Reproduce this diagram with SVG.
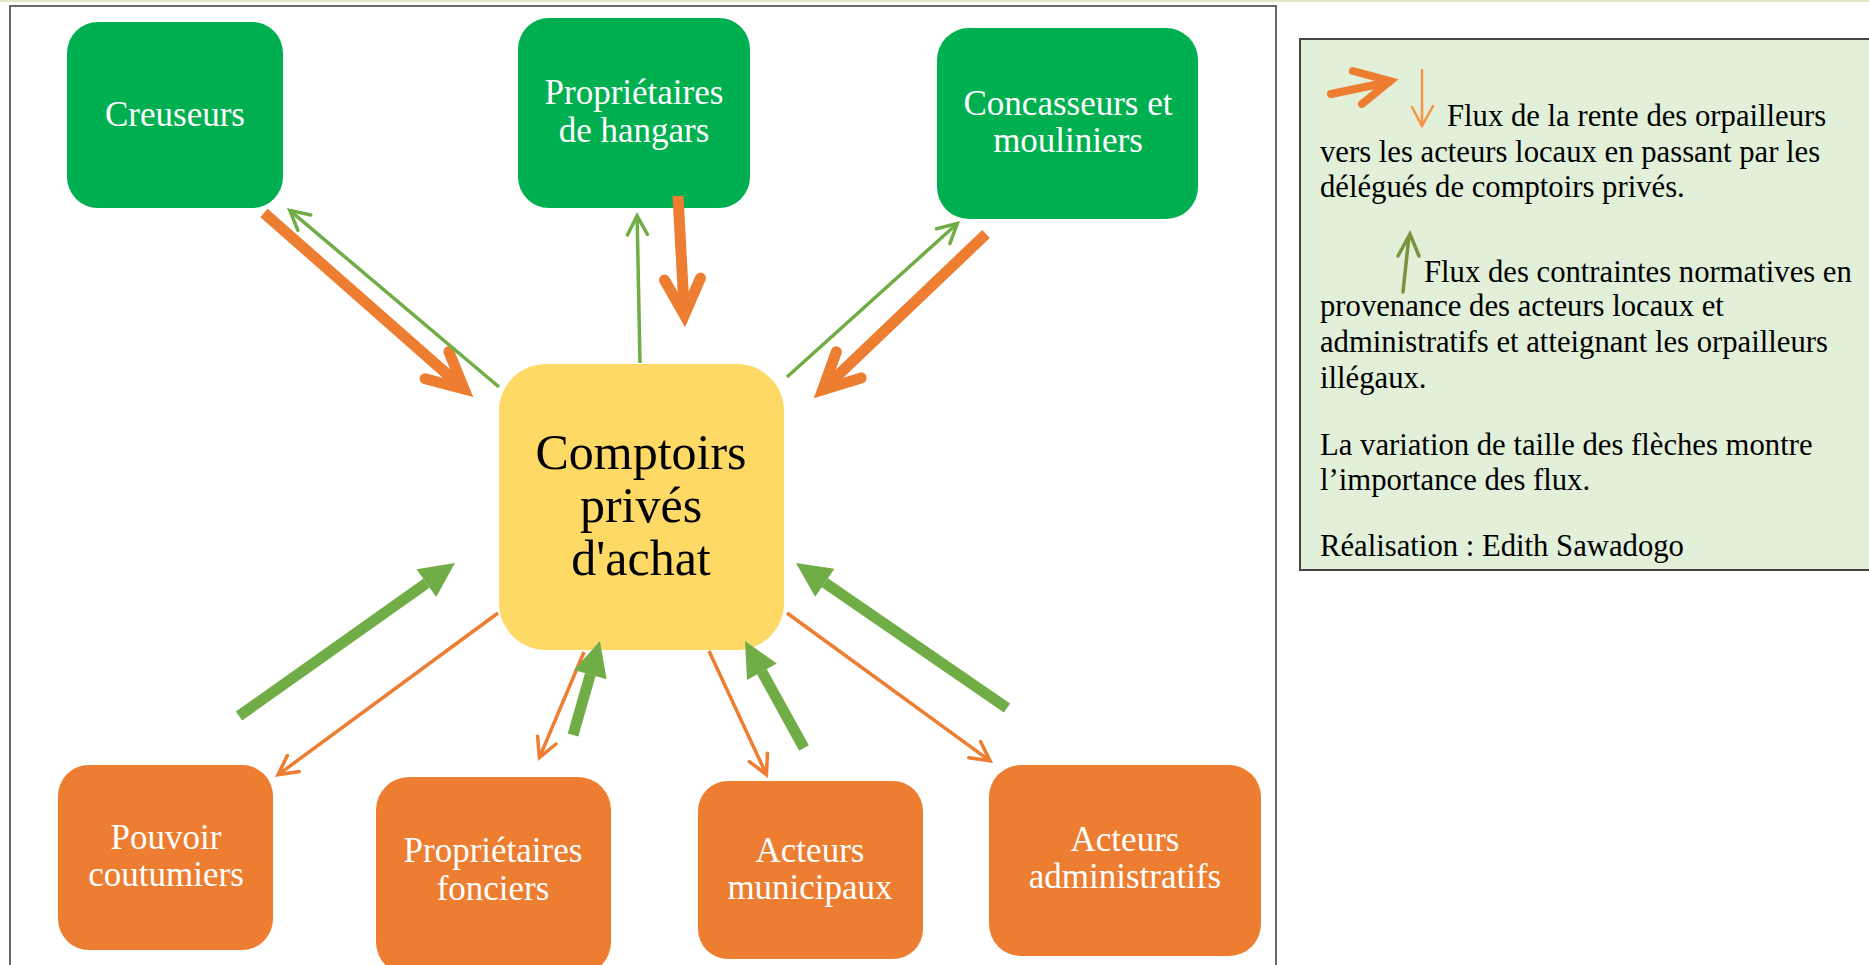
<svg xmlns="http://www.w3.org/2000/svg" width="1869" height="965" viewBox="0 0 1869 965">
<style>
text{font-family:"Liberation Serif","Times New Roman",serif}
.nt{font-size:35px;fill:#ffffff;text-anchor:middle}
.ct{font-size:50px;fill:#000000;text-anchor:middle}
.lt{font-size:30.7px;fill:#000000}
.green{fill:#00b050}
.orange{fill:#ed7d31}
.yellow{fill:#ffd966}
.to{stroke:#ed7d31;stroke-width:11;fill:none;marker-end:url(#chevO)}
.tg{stroke:#70ad47;stroke-width:11;fill:none;marker-end:url(#triG)}
.so{stroke:#ed7d31;stroke-width:3.5;fill:none;marker-end:url(#chevOs)}
.sg{stroke:#70ad47;stroke-width:3.5;fill:none;marker-end:url(#chevGs)}
</style>
<defs>
<marker id="chevO" markerUnits="userSpaceOnUse" orient="auto" markerWidth="1" markerHeight="1" refX="0" refY="0" overflow="visible">
<path d="M-36,-18 L0,0 L-36,18" fill="none" stroke="#ed7d31" stroke-width="11" stroke-linecap="round" stroke-linejoin="miter"/>
</marker>
<marker id="chevOs" markerUnits="userSpaceOnUse" orient="auto" markerWidth="1" markerHeight="1" refX="0" refY="0" overflow="visible">
<path d="M-19,-10 L0,0 L-19,10" fill="none" stroke="#ed7d31" stroke-width="3.5" stroke-linecap="round" stroke-linejoin="miter"/>
</marker>
<marker id="chevGs" markerUnits="userSpaceOnUse" orient="auto" markerWidth="1" markerHeight="1" refX="0" refY="0" overflow="visible">
<path d="M-19,-10 L0,0 L-19,10" fill="none" stroke="#70ad47" stroke-width="3.5" stroke-linecap="round" stroke-linejoin="miter"/>
</marker>
<marker id="triG" markerUnits="userSpaceOnUse" orient="auto" markerWidth="1" markerHeight="1" refX="0" refY="0" overflow="visible">
<path d="M0,-17 L35,0 L0,17 Z" fill="#70ad47"/>
</marker>
</defs>
<rect x="0" y="0" width="1869" height="965" fill="#ffffff"/>
<rect x="0" y="0" width="1869" height="2" fill="#dfe9c9"/>
<rect id="frame" x="10" y="6" width="1266" height="1000" fill="#ffffff" stroke="#444444" stroke-width="1.6"/>

<g id="node-creuseurs">
<rect class="green" x="67" y="22" width="216" height="186" rx="31"/>
<text class="nt" x="175" y="126">Creuseurs</text>
</g>
<g id="node-hangars">
<rect class="green" x="518" y="18" width="232" height="190" rx="31"/>
<text class="nt" x="634" y="104">Propriétaires</text>
<text class="nt" x="634" y="142">de hangars</text>
</g>
<g id="node-concasseurs">
<rect class="green" x="937" y="28" width="261" height="191" rx="32"/>
<text class="nt" x="1068" y="115">Concasseurs et</text>
<text class="nt" x="1068" y="152">mouliniers</text>
</g>
<g id="node-comptoirs">
<rect class="yellow" x="499" y="364" width="285" height="286" rx="47"/>
<text class="ct" x="641" y="469">Comptoirs</text>
<text class="ct" x="641" y="522">privés</text>
<text class="ct" x="641" y="575">d'achat</text>
</g>
<g id="node-pouvoir">
<rect class="orange" x="58" y="765" width="215" height="185" rx="31"/>
<text class="nt" x="166" y="849">Pouvoir</text>
<text class="nt" x="166" y="886">coutumiers</text>
</g>
<g id="node-fonciers">
<rect class="orange" x="376" y="777" width="235" height="198" rx="33"/>
<text class="nt" x="493" y="862">Propriétaires</text>
<text class="nt" x="493" y="900">fonciers</text>
</g>
<g id="node-municipaux">
<rect class="orange" x="698" y="781" width="225" height="178" rx="30"/>
<text class="nt" x="810" y="862">Acteurs</text>
<text class="nt" x="810" y="899">municipaux</text>
</g>
<g id="node-administratifs">
<rect class="orange" x="989" y="765" width="272" height="191" rx="32"/>
<text class="nt" x="1125" y="851">Acteurs</text>
<text class="nt" x="1125" y="888">administratifs</text>
</g>

<g id="connectors">
<line class="to" x1="264" y1="213" x2="464" y2="389"/>
<line class="sg" x1="499" y1="387" x2="289.8" y2="210.4"/>
<line class="sg" x1="640" y1="363" x2="637.1" y2="215.7"/>
<line class="to" x1="678" y1="196" x2="684.4" y2="315"/>
<line class="sg" x1="787" y1="377" x2="957.3" y2="223.5"/>
<line class="to" x1="986" y1="234" x2="822.7" y2="389.7"/>
<line class="tg" x1="239" y1="716" x2="426.4" y2="583.2"/>
<line class="so" x1="498" y1="613" x2="278" y2="774.8"/>
<line class="so" x1="584" y1="652" x2="539.4" y2="757.6"/>
<line class="tg" x1="573" y1="735" x2="590.3" y2="674.6"/>
<line class="so" x1="709" y1="651" x2="766.4" y2="774.6"/>
<line class="tg" x1="804" y1="748" x2="761.9" y2="671.7"/>
<line class="tg" x1="1007" y1="708" x2="824.8" y2="582.8"/>
<line class="so" x1="787" y1="613" x2="990" y2="760.8"/>
</g>

<g id="legend">
<rect x="1300" y="39" width="580" height="531" fill="#e2efd9" stroke="#444444" stroke-width="2"/>
<path d="M1331,94 L1389,82 M1353,71 L1390,81 L1362,104" fill="none" stroke="#ed7d31" stroke-width="8" stroke-linecap="round" stroke-linejoin="miter"/>
<path d="M1422,70 L1422,126 M1412,107 L1422,126 L1433,106" fill="none" stroke="#f79646" stroke-width="2.5" stroke-linecap="round"/>
<path d="M1403,292 L1409,236 M1398,256 L1410,234 L1419,256" fill="none" stroke="#77933c" stroke-width="3.5" stroke-linecap="round"/>
<text class="lt" x="1447" y="126">Flux de la rente des orpailleurs</text>
<text class="lt" x="1320" y="162">vers les acteurs locaux en passant par les</text>
<text class="lt" x="1320" y="197">délégués de comptoirs privés.</text>
<text class="lt" x="1424" y="282">Flux des contraintes normatives en</text>
<text class="lt" x="1320" y="316">provenance des acteurs locaux et</text>
<text class="lt" x="1320" y="352">administratifs et atteignant les orpailleurs</text>
<text class="lt" x="1320" y="388">illégaux.</text>
<text class="lt" x="1320" y="455">La variation de taille des flèches montre</text>
<text class="lt" x="1320" y="490">l’importance des flux.</text>
<text class="lt" x="1320" y="556">Réalisation : Edith Sawadogo</text>
</g>
</svg>
